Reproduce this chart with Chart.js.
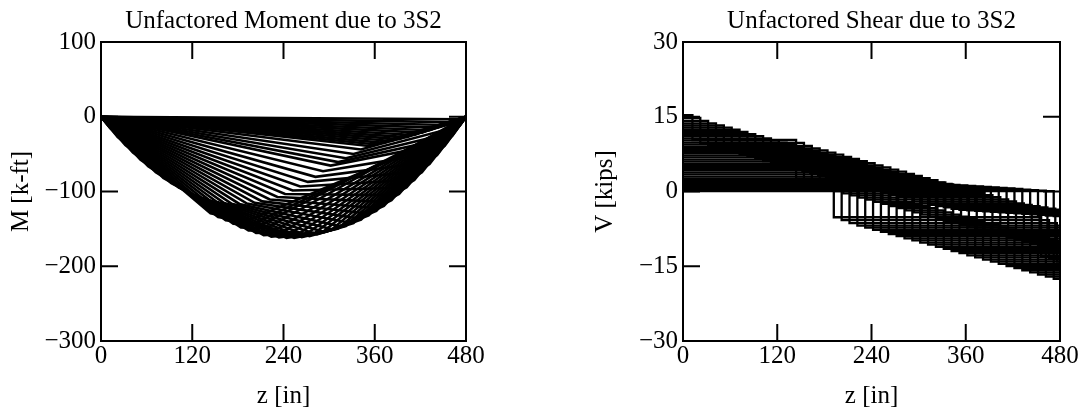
<!DOCTYPE html>
<html>
<head>
<meta charset="utf-8">
<script src="https://cdn.jsdelivr.net/npm/chart.js@4.4.1/dist/chart.umd.min.js"></script>
<style>
  html, body { margin: 0; padding: 0; background: #fff; }
  #wrap { position: relative; width: 1087px; height: 411px; }
  canvas { position: absolute; top: 0; }
  #momentChart { left: 0; }
  #shearChart { left: 543px; }
</style>
</head>
<body>
<div id="wrap">
  <canvas id="momentChart" width="543" height="411"></canvas>
  <canvas id="shearChart" width="544" height="411"></canvas>
</div>
<script>
// 3S2 truck (per wheel line) crossing a 40 ft simple span
const span = 480;                                  // in
const axleLoads = [5, 7.75, 7.75, 7.75, 7.75];     // kips
const axleOffsets = [0, 132, 180, 444, 492];       // in, measured back from the steer axle
// steer axle position for each plotted load case, in
const steerAxle = [12, 22, 32, 42, 52, 62, 72, 82, 92, 102, 112, 122, 132, 142, 152, 162,
  172, 182, 192, 202, 212, 222, 232, 242, 252, 262, 272, 282, 292, 302, 312, 322,
  332, 342, 352, 362, 372, 382, 392, 402, 412, 422, 432, 442, 452, 462, 472];

const zTicks = [0, 120, 240, 360, 480];
const momentTicks = [-300, -200, -100, 0, 100];
const shearTicks = [-30, -15, 0, 15, 30];

const serif = '"Liberation Serif", "Times New Roman", serif';
const font = { family: serif, size: 25, weight: 'normal' };

// shear and moment diagram for one truck position (statics of a simple span)
function loadCase(q) {
  const axles = axleOffsets.map((o, i) => ({ x: q + o, p: axleLoads[i] }))
    .filter(a => a.x >= 0 && a.x <= span)
    .sort((a, b) => a.x - b.x);
  const ra = axles.reduce((s, a) => s + a.p * (span - a.x) / span, 0);
  const shear = [{ x: 0, y: ra }];
  const moment = [{ x: 0, y: 0 }];
  let v = ra, m = 0, last = 0;
  axles.forEach(a => {
    m += v * (a.x - last);
    last = a.x;
    moment.push({ x: a.x, y: -m / 12 });
    shear.push({ x: a.x, y: v });
    v -= a.p;
    shear.push({ x: a.x, y: v });
  });
  shear.push({ x: span, y: v });
  moment.push({ x: span, y: 0 });
  return { shear, moment };
}

const cases = steerAxle.map(loadCase);

function lineSet(data, width) {
  return { data, showLine: true, pointRadius: 0, borderColor: '#000', borderWidth: width, fill: false };
}

const frame = {
  id: 'frame',
  afterDatasetsDraw(chart) {
    const { ctx, chartArea: a, scales: { x, y } } = chart;
    const len = 17;
    ctx.save();
    ctx.strokeStyle = '#000';
    ctx.lineWidth = 2;
    ctx.strokeRect(a.left, a.top, a.right - a.left, a.bottom - a.top);
    ctx.beginPath();
    x.ticks.forEach(t => {
      const px = x.getPixelForValue(t.value);
      ctx.moveTo(px, a.top); ctx.lineTo(px, a.top + len);
      ctx.moveTo(px, a.bottom); ctx.lineTo(px, a.bottom - len);
    });
    y.ticks.forEach(t => {
      const py = y.getPixelForValue(t.value);
      ctx.moveTo(a.left, py); ctx.lineTo(a.left + len, py);
      ctx.moveTo(a.right, py); ctx.lineTo(a.right - len, py);
    });
    ctx.stroke();
    ctx.restore();
  }
};

const fmt = v => (v < 0 ? '\u2212' + Math.abs(v) : String(v));

function makeChart(id, title, yTitle, yTicks, datasets, yWidth, yTitlePad, padRight) {
  return new Chart(document.getElementById(id), {
    type: 'scatter',
    data: { datasets },
    options: {
      responsive: false,
      animation: false,
      events: [],
      layout: { padding: { top: 3, right: padRight, bottom: 0, left: 0 } },
      plugins: {
        legend: { display: false },
        tooltip: { enabled: false },
        title: { display: true, text: title, fullSize: false, color: '#000', font, padding: { top: 3, bottom: 6 } }
      },
      scales: {
        x: {
          type: 'linear', min: 0, max: span,
          afterBuildTicks: s => { s.ticks = zTicks.map(v => ({ value: v })); },
          afterFit: s => { s.height = 70; },
          grid: { display: false, drawTicks: false },
          border: { display: false },
          ticks: { color: '#000', font, padding: 0, maxRotation: 0, autoSkip: false, callback: fmt },
          title: { display: true, text: 'z [in]', color: '#000', font, padding: { top: 0, bottom: 0 } }
        },
        y: {
          type: 'linear', min: yTicks[0], max: yTicks[yTicks.length - 1],
          afterBuildTicks: s => { s.ticks = yTicks.map(v => ({ value: v })); },
          afterFit: s => { s.width = yWidth; },
          grid: { display: false, drawTicks: false },
          border: { display: false },
          ticks: { color: '#000', font, padding: 5, autoSkip: false, callback: fmt },
          title: { display: true, text: yTitle, color: '#000', font, padding: { top: yTitlePad, bottom: 0 } }
        }
      }
    },
    plugins: [frame]
  });
}

makeChart('momentChart', 'Unfactored Moment due to 3S2', 'M [k-ft]', momentTicks,
  cases.map(c => lineSet(c.moment, 2.6)), 101, 6, 77);
makeChart('shearChart', 'Unfactored Shear due to 3S2', 'V [kips]', shearTicks,
  cases.map(c => lineSet(c.shear, 2.3)), 140, 47, 27);
</script>
</body>
</html>
